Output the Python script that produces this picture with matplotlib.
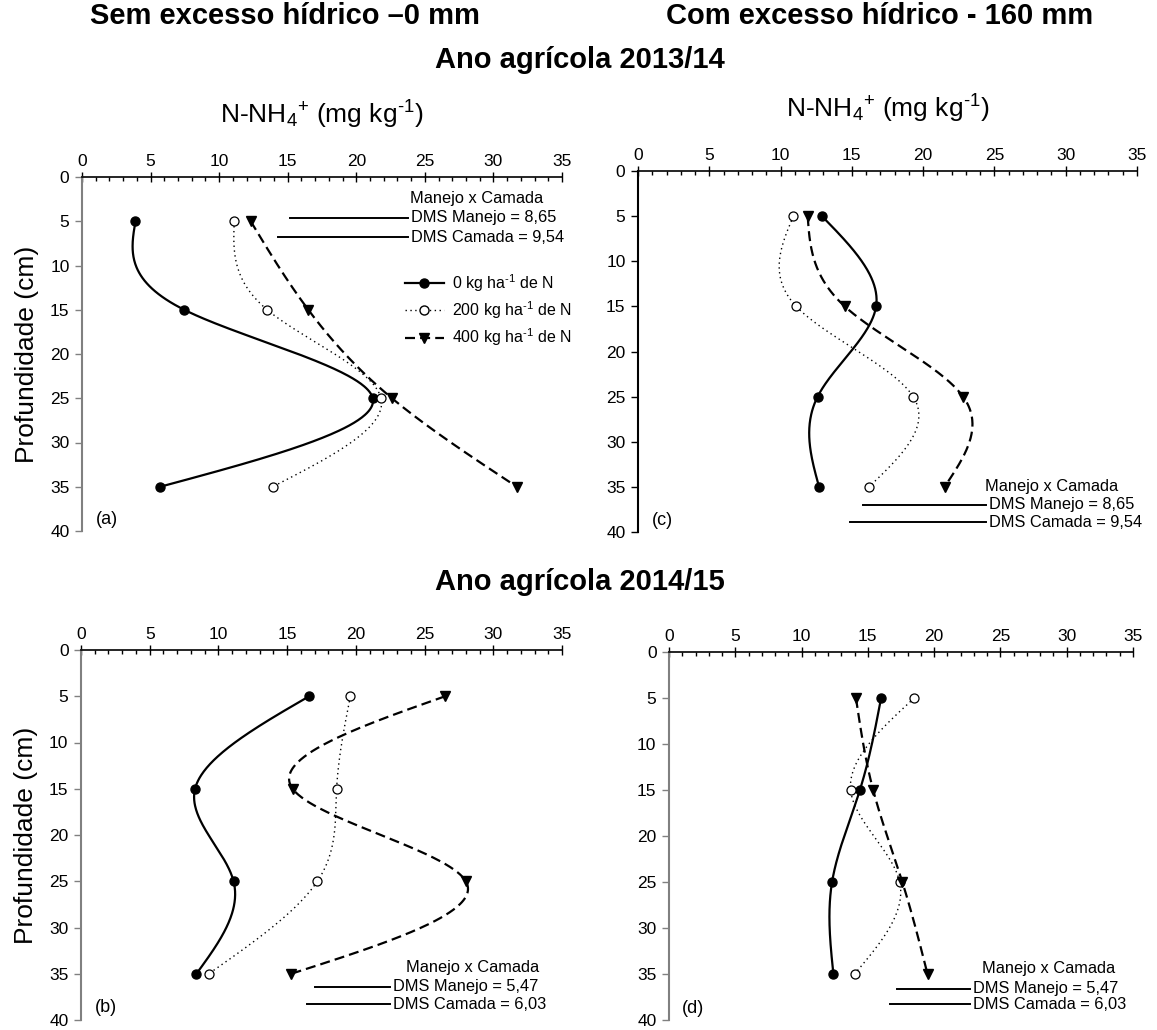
import matplotlib
matplotlib.use("Agg")
import matplotlib.pyplot as plt
import numpy as np
from matplotlib.ticker import MultipleLocator

plt.rcParams["font.family"] = ["Liberation Sans", "DejaVu Sans"]
plt.rcParams["mathtext.fontset"] = "custom"
plt.rcParams["mathtext.rm"] = "Liberation Sans"
plt.rcParams["mathtext.it"] = "Liberation Sans"
plt.rcParams["mathtext.bf"] = "Liberation Sans:bold"

# depth of each soil layer (cm)
depth = [5, 15, 25, 35]

# N-NH4+ (mg/kg) per N rate, one array per panel
a_n0 = [3.9, 7.45, 21.2, 5.7]
a_n200 = [11.1, 13.5, 21.8, 13.9]
a_n400 = [12.3, 16.5, 22.6, 31.7]

c_n0 = [12.9, 16.7, 12.6, 12.7]
c_n200 = [10.9, 11.1, 19.3, 16.2]
c_n400 = [11.9, 14.5, 22.8, 21.5]

b_n0 = [16.6, 8.3, 11.1, 8.4]
b_n200 = [19.6, 18.6, 17.2, 9.3]
b_n400 = [26.5, 15.4, 28.0, 15.3]

d_n0 = [16.0, 14.4, 12.3, 12.4]
d_n200 = [18.5, 13.7, 17.4, 14.0]
d_n400 = [14.1, 15.4, 17.6, 19.5]

rate_labels = [r"0 kg ha$^{\text{-}1}$ de N", r"200 kg ha$^{\text{-}1}$ de N",
               r"400 kg ha$^{\text{-}1}$ de N"]
panel_letters = ["(a)", "(b)", "(c)", "(d)"]

# least significant differences (Tukey) per season
dms_2013 = [8.65, 9.54]
dms_2014 = [5.47, 6.03]
dms_text_2013 = ["DMS Manejo = 8,65", "DMS Camada = 9,54"]
dms_text_2014 = ["DMS Manejo = 5,47", "DMS Camada = 6,03"]


def natural_spline(y, x, n=300):
    """Natural cubic spline of x as a function of depth y."""
    y = np.asarray(y, float)
    x = np.asarray(x, float)
    h = np.diff(y)
    m = len(y)
    A = np.zeros((m, m))
    b = np.zeros(m)
    A[0, 0] = A[-1, -1] = 1
    for i in range(1, m - 1):
        A[i, i - 1] = h[i - 1]
        A[i, i] = 2 * (h[i - 1] + h[i])
        A[i, i + 1] = h[i]
        b[i] = 6 * ((x[i + 1] - x[i]) / h[i] - (x[i] - x[i - 1]) / h[i - 1])
    M = np.linalg.solve(A, b)
    yy = np.linspace(y[0], y[-1], n)
    idx = np.clip(np.searchsorted(y, yy) - 1, 0, m - 2)
    t0 = y[idx]
    hh = y[idx + 1] - t0
    p = (y[idx + 1] - yy) / hh
    q = (yy - t0) / hh
    xx = (p * x[idx] + q * x[idx + 1]
          + ((p ** 3 - p) * M[idx] + (q ** 3 - q) * M[idx + 1]) * hh ** 2 / 6)
    return xx, yy


styles = [
    dict(ls="-", lw=1.6, marker="o", mfc="k", mec="k", ms=6.5),
    dict(ls=(0, (1, 2.5)), lw=1.0, marker="o", mfc="white", mec="k", ms=6.5, mew=0.9),
    dict(ls=(0, (4.5, 2.3)), lw=1.6, marker="v", mfc="k", mec="k", ms=7),
]


def draw_panel(ax, series, letter, spine_color="0.5"):
    for vals, st in zip(series, styles):
        xs, ys = natural_spline(depth, vals)
        ax.plot(xs, ys, color="k", ls=st["ls"], lw=st["lw"], zorder=2)
        ax.plot(vals, depth, ls="none", marker=st["marker"], mfc=st["mfc"],
                mec=st["mec"], ms=st["ms"], mew=st.get("mew", 1.0), zorder=3)
    ax.set_xlim(0, 35)
    ax.set_ylim(40, 0)
    ax.xaxis.set_major_locator(MultipleLocator(5))
    ax.xaxis.set_minor_locator(MultipleLocator(1))
    ax.yaxis.set_major_locator(MultipleLocator(5))
    ax.xaxis.tick_top()
    ax.tick_params(axis="x", which="major", direction="inout", length=7, width=1,
                   labelsize=12.5, pad=2)
    ax.tick_params(axis="x", which="minor", direction="in", length=3, width=1)
    ax.tick_params(axis="y", which="major", direction="out", length=5, width=1,
                   labelsize=12.5, pad=4, color=spine_color)
    for s in ["bottom", "right"]:
        ax.spines[s].set_visible(False)
    ax.spines["top"].set_linewidth(1.2)
    ax.spines["left"].set_linewidth(1.5)
    ax.spines["left"].set_color(spine_color)
    ax.text(1.0, 38.7, letter, fontsize=13, ha="left", va="center")


def draw_dms(ax, values, texts, x_end, y_title, y_lines, x_title, fs=11.8):
    ax.text(x_title, y_title, "Manejo x Camada", fontsize=fs, ha="center", va="center")
    for val, txt, yl in zip(values, texts, y_lines):
        ax.plot([x_end - val, x_end], [yl, yl], color="k", lw=1.4)
        ax.text(x_end + 0.2, yl, txt, fontsize=fs, ha="left", va="center")


W, H = 1157, 1030
fig = plt.figure(figsize=(W / 100, H / 100), dpi=100)


def box(x0, y0, x1, y1):
    return [x0 / W, 1 - y1 / H, (x1 - x0) / W, (y1 - y0) / H]


ax_a = fig.add_axes(box(82, 177, 562, 531))
ax_c = fig.add_axes(box(638, 171, 1137, 532))
ax_b = fig.add_axes(box(81, 650, 562, 1020))
ax_d = fig.add_axes(box(669, 652, 1133, 1020))

draw_panel(ax_a, [a_n0, a_n200, a_n400], panel_letters[0])
draw_panel(ax_b, [b_n0, b_n200, b_n400], panel_letters[1])
draw_panel(ax_c, [c_n0, c_n200, c_n400], panel_letters[2], spine_color="k")
draw_panel(ax_d, [d_n0, d_n200, d_n400], panel_letters[3])

draw_dms(ax_a, dms_2013, dms_text_2013, 23.8, 2.4, [4.6, 6.8], 28.8)
draw_dms(ax_c, dms_2013, dms_text_2013, 24.4, 35.0, [37.0, 38.9], 29.0)
draw_dms(ax_b, dms_2014, dms_text_2014, 22.5, 34.3, [36.4, 38.3], 28.5)
draw_dms(ax_d, dms_2014, dms_text_2014, 22.7, 34.4, [36.6, 38.3], 28.6)

# legend for the N rates in panel (a)
handles = []
for st, lab in zip(styles, rate_labels):
    h, = ax_a.plot([], [], color="k", ls=st["ls"], lw=st["lw"], marker=st["marker"],
                   mfc=st["mfc"], mec=st["mec"], ms=st["ms"])
    handles.append(h)
ax_a.legend(handles, rate_labels, loc="upper left", bbox_to_anchor=(0.66, 0.75),
            frameon=False, fontsize=11.5, handlelength=2.4, handletextpad=0.5,
            labelspacing=0.35, borderaxespad=0)

xlabel = r"N-NH$_{4}$$^{+}$ (mg kg$^{\text{-}1}$)"
for ax in (ax_a, ax_c):
    ax.set_xlabel(xlabel, fontsize=19, labelpad=22)
    ax.xaxis.set_label_position("top")
for ax in (ax_a, ax_b):
    ax.set_ylabel("Profundidade (cm)", fontsize=19, labelpad=8)

fig.text(285 / W, 1 - 16 / H, "Sem excesso hídrico –0 mm", fontsize=21,
         fontweight="bold", ha="center", va="center")
fig.text(880 / W, 1 - 16 / H, "Com excesso hídrico - 160 mm", fontsize=21,
         fontweight="bold", ha="center", va="center")
fig.text(580 / W, 1 - 60 / H, "Ano agrícola 2013/14", fontsize=21,
         fontweight="bold", ha="center", va="center")
fig.text(580 / W, 1 - 582 / H, "Ano agrícola 2014/15", fontsize=21,
         fontweight="bold", ha="center", va="center")

fig.savefig("out.png", dpi=100)
